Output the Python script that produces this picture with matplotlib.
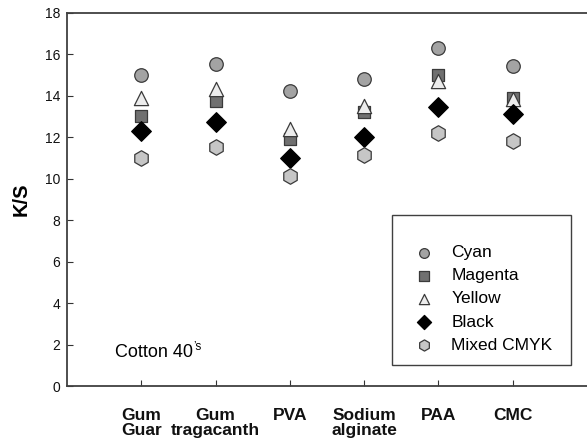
import matplotlib
matplotlib.use("Agg")
import matplotlib.pyplot as plt
from matplotlib.patches import Rectangle

plt.rcParams['font.family'] = ['Liberation Sans', 'DejaVu Sans']

categories = ["Gum\nGuar", "Gum\ntragacanth", "PVA", "Sodium\nalginate", "PAA", "CMC"]
cyan = [15.0, 15.5, 14.2, 14.8, 16.3, 15.4]
magenta = [13.0, 13.75, 11.9, 13.2, 15.0, 13.9]
yellow = [13.9, 14.3, 12.4, 13.5, 14.7, 13.85]
black = [12.3, 12.7, 11.0, 12.0, 13.45, 13.1]
mixed = [11.0, 11.5, 10.1, 11.15, 12.2, 11.8]
y_ticks = [0, 2, 4, 6, 8, 10, 12, 14, 16, 18]

fig = plt.figure(figsize=(5.87, 4.48), dpi=100)
ax = fig.add_axes([67/587, 62/448, 1 - 67/587 + 0.01, (386 - 12.5)/448])

x = list(range(1, len(categories) + 1))
ec = '#3a3a3a'
series = [
    ("Cyan", cyan, 'o', '#a3a3a3', 95),
    ("Magenta", magenta, 's', '#707070', 82),
    ("Yellow", yellow, '^', '#ececec', 105),
    ("Black", black, 'D', '#000000', 100),
    ("Mixed CMYK", mixed, 'h', '#c6c6c6', 125),
]
handles = []
for name, vals, m, c, s in series:
    h = ax.scatter(x, vals, marker=m, s=s, facecolor=c, edgecolor=ec if c != '#000000' else '#000000',
                   linewidths=0.9, label=name, zorder=3)
    handles.append(h)

ax.set_xlim(0, 7.08)
ax.set_ylim(0, 18)
ax.set_yticks(y_ticks)
ax.set_xticks(x)
ax.set_xticklabels(categories, fontweight='bold', fontsize=12.5, linespacing=0.95)
ax.tick_params(axis='x', direction='in', length=4, pad=16, colors='#333333', labelcolor='#111111')
ax.tick_params(axis='y', direction='in', length=4, pad=5, labelsize=10, colors='#333333', labelcolor='#111111')
for sp in ax.spines.values():
    sp.set_color('#404040')
    sp.set_linewidth(1.3)

ax.set_ylabel("K/S", fontsize=14.5, fontweight='bold', labelpad=10)

t = ax.text(115/587, 1 - 352/448, "Cotton 40", fontsize=13, va='center', ha='left',
            transform=fig.transFigure)
ax.annotate("\u2019s", xy=(1.0, 0.8), xycoords=t, fontsize=8.5, va='center', ha='left')

# legend box
fig.patches.append(Rectangle((392/587, 1 - 365/448), (571 - 392)/587, (365 - 215)/448,
                             transform=fig.transFigure, facecolor='white', edgecolor='#404040',
                             linewidth=1.0, zorder=5))
leg = fig.legend(handles=handles, loc='upper left', bbox_to_anchor=(407/587, 1 - 245/448),
                 frameon=False, fontsize=12.5, handletextpad=0.55, labelspacing=0.46,
                 markerscale=0.72, borderaxespad=0, borderpad=0)
leg.set_zorder(6)

fig.savefig("out.png", dpi=100)
